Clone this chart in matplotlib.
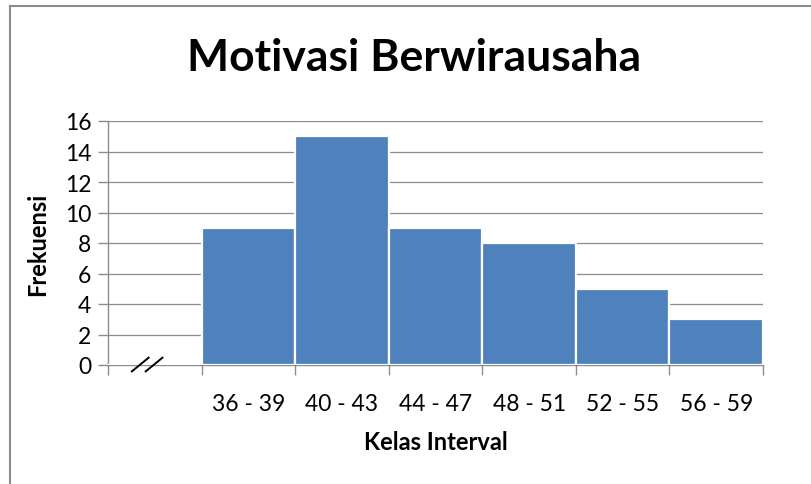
import matplotlib
matplotlib.use("Agg")
import matplotlib.pyplot as plt
from matplotlib.lines import Line2D

categories = ["", "36 - 39", "40 - 43", "44 - 47", "48 - 51", "52 - 55", "56 - 59"]
frekuensi = [0, 9, 15, 9, 8, 5, 3]
yticks = [0, 2, 4, 6, 8, 10, 12, 14, 16]

plt.rcParams['font.family'] = ['Lato', 'DejaVu Sans']

W, H = 811, 485
fig = plt.figure(figsize=(W / 100, H / 100), dpi=100)
ax = fig.add_axes([108 / W, 1 - 366 / H, (763 - 108) / W, (366 - 122) / H])

x = list(range(len(categories)))
ax.bar(x, frekuensi, width=1.0, color="#4F81BD", edgecolor="white", linewidth=1.6, zorder=3)

ax.set_xlim(-0.5, len(categories) - 0.5)
ax.set_ylim(0, 16)
ax.set_yticks(yticks)
ax.set_yticklabels([str(v) for v in yticks], fontsize=16.5)
ax.yaxis.grid(True, color="#8C8C8C", linewidth=0.9, zorder=0)
ax.set_axisbelow(True)

# category boundaries as ticks, labels centered
ax.set_xticks([i - 0.5 for i in range(len(categories) + 1)])
ax.set_xticklabels([])
ax.set_xticks(x, minor=True)
ax.set_xticklabels(categories, minor=True, fontsize=16.5)
ax.tick_params(axis="x", which="minor", length=0, pad=20)
ax.tick_params(axis="x", which="major", length=7, color="#8C8C8C", width=1)
ax.tick_params(axis="y", length=7, color="#8C8C8C", width=1, pad=5)

for s in ["top", "right"]:
    ax.spines[s].set_visible(False)
for s in ["left", "bottom"]:
    ax.spines[s].set_color("#8C8C8C")
    ax.spines[s].set_linewidth(1)

# axis break mark "//"
for x0 in (-0.253, -0.105):
    ax.plot([x0, x0 + 0.195], [-0.46, 0.52], color="black", lw=1.4,
            clip_on=False, zorder=5, solid_capstyle="butt")

ax.set_xlabel("Kelas Interval", fontsize=17, fontweight="bold", labelpad=12)
ax.set_ylabel("Frekuensi", fontsize=17, fontweight="bold", labelpad=11)

fig.text(414 / W, 1 - 58 / H, "Motivasi Berwirausaha", fontsize=32, fontweight="bold",
         ha="center", va="center")

# outer chart border (left and top visible)
fig.add_artist(Line2D([10 / W, 10 / W], [0, 1 - 7 / H], transform=fig.transFigure, color="#8C8C8C", lw=1.5))
fig.add_artist(Line2D([10 / W, 1], [1 - 7 / H, 1 - 7 / H], transform=fig.transFigure, color="#8C8C8C", lw=1.5))

fig.savefig("out.png", dpi=100, facecolor="white")
